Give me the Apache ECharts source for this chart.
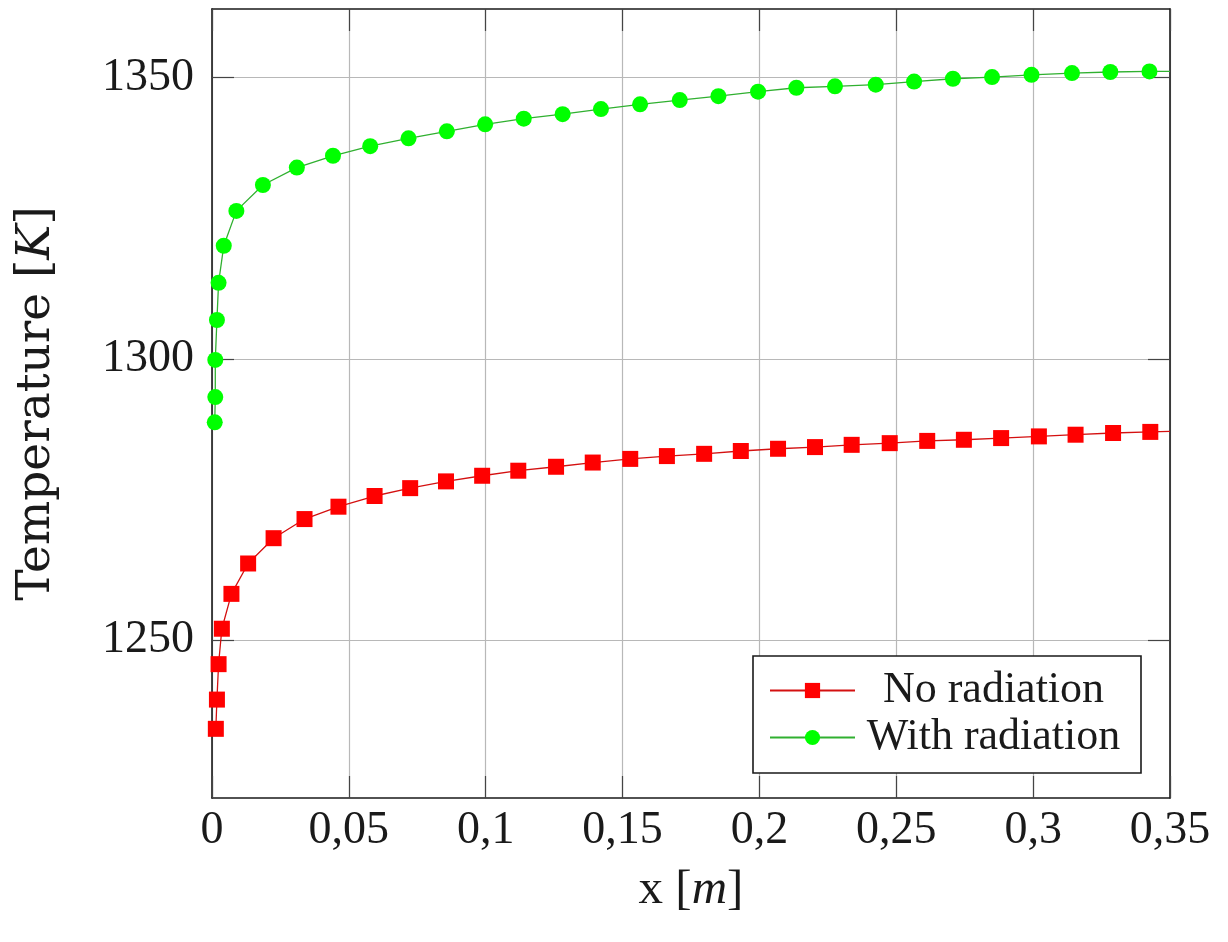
<!DOCTYPE html>
<html><head><meta charset="utf-8">
<script src="https://cdn.jsdelivr.net/npm/echarts@6/dist/echarts.min.js"></script>
<style>html,body{margin:0;padding:0;background:#fff}#c{width:1228px;height:942px}</style>
</head><body><div id="c"></div>
<script>
// ---- data ----
const xNoRad = [0.0014,0.0018,0.0024,0.0036,0.0071,0.0132,0.0225,0.0338,0.0462,0.0594,0.0724,0.0855,0.0987,0.1119,0.1257,0.1391,0.1528,0.1662,0.1798,0.1932,0.2068,0.2203,0.2337,0.2476,0.2613,0.2747,0.2883,0.3021,0.3155,0.3292,0.3428,0.35];
const yNoRad = [1234.2,1239.4,1245.7,1252.0,1258.2,1263.6,1268.1,1271.5,1273.7,1275.6,1277.0,1278.2,1279.2,1280.1,1280.8,1281.55,1282.2,1282.7,1283.1,1283.6,1284.0,1284.3,1284.7,1285.0,1285.4,1285.6,1285.9,1286.2,1286.5,1286.8,1287.0,1287.1];
const xWithRad = [0.0010,0.0012,0.0012,0.0018,0.0024,0.0043,0.0089,0.0186,0.0310,0.0442,0.0578,0.0718,0.0858,0.0998,0.1139,0.1281,0.1421,0.1564,0.1709,0.1850,0.1995,0.2135,0.2276,0.2425,0.2565,0.2707,0.2850,0.2994,0.3142,0.3282,0.3425,0.35];
const yWithRad = [1288.7,1293.2,1299.8,1306.9,1313.5,1320.1,1326.3,1330.9,1334.0,1336.1,1337.8,1339.2,1340.45,1341.7,1342.7,1343.5,1344.4,1345.25,1346.0,1346.7,1347.5,1348.2,1348.45,1348.75,1349.3,1349.8,1350.1,1350.5,1350.8,1351.0,1351.1,1351.1];
const yTicks = [1250, 1300, 1350];
const seriesNames = ['No radiation', 'With radiation'];
const xTitle = 'x [{i|m}]';
const yTitle = 'Temperature [{i|K}]';

// ---- build ----
function pts(xs, ys) {
  const last = xs.length - 1;
  return xs.map((x, i) => i === last ? { value: [x, ys[i]], symbol: 'none' } : [x, ys[i]]);
}
const SERIF = '"Liberation Serif", "Times New Roman", serif';
const TXT = '#1a1a1a';
const tickStyle = { show: true, inside: true, length: 22, lineStyle: { color: '#444', width: 1.2 } };
const frame = { show: true, onZero: false, lineStyle: { color: '#1a1a1a', width: 1.6 } };
const grid = { show: true, lineStyle: { color: '#b8b8b8', width: 1.2 } };
const fmtX = v => String(+v.toFixed(2)).replace('.', ',');
const fmtY = v => String(Math.round(v));

const chart = echarts.init(document.getElementById('c'), null, { renderer: 'canvas' });
chart.setOption({
  backgroundColor: '#fff',
  animation: false,
  grid: { left: 212, right: 58, top: 9, bottom: 144, containLabel: false },
  xAxis: [
    {
      type: 'value', min: 0, max: 0.35, interval: 0.05,
      axisLine: frame, axisTick: tickStyle, splitLine: grid,
      axisLabel: { formatter: fmtX, fontFamily: SERIF, fontSize: 46, color: TXT, margin: 10 },
      name: xTitle, nameLocation: 'middle', nameGap: 68,
      nameTextStyle: { fontFamily: SERIF, fontSize: 49, color: TXT,
        rich: { i: { fontFamily: SERIF, fontSize: 49, fontStyle: 'italic', color: TXT } } }
    },
    {
      type: 'value', position: 'top', min: 0, max: 0.35, interval: 0.05,
      axisLine: frame, axisTick: tickStyle, splitLine: { show: false }, axisLabel: { show: false }
    }
  ],
  yAxis: [
    {
      type: 'value', min: 1221.9, max: 1362.2,
      axisLine: frame,
      axisTick: Object.assign({}, tickStyle, { customValues: yTicks }),
      splitLine: grid,
      axisLabel: { customValues: yTicks, formatter: fmtY, fontFamily: SERIF, fontSize: 46, color: TXT, margin: 18 },
      name: yTitle, nameLocation: 'middle', nameGap: 152,
      nameTextStyle: { fontFamily: '"DejaVu Serif", serif', fontSize: 47, color: TXT,
        rich: { i: { fontFamily: '"DejaVu Serif", serif', fontSize: 47, fontStyle: 'italic', color: TXT } } }
    },
    {
      type: 'value', position: 'right', min: 1221.9, max: 1362.2,
      axisLine: frame,
      axisTick: Object.assign({}, tickStyle, { customValues: yTicks }),
      splitLine: { show: false },
      axisLabel: { show: false, customValues: yTicks }
    }
  ],
  legend: {
    orient: 'vertical', left: 753, top: 656,
    padding: [11, 20, 12, 16], itemGap: 0,
    itemWidth: 85, itemHeight: 19,
    backgroundColor: '#fff', borderColor: '#1a1a1a', borderWidth: 1.6, borderRadius: 0,
    data: seriesNames,
    formatter: n => '{c|' + n + '}',
    textStyle: { fontFamily: SERIF, fontSize: 44, color: TXT, lineHeight: 47,
      rich: { c: { fontFamily: SERIF, fontSize: 44, color: TXT, width: 255, align: 'center', padding: [0, 0, 0, 6] } } }
  },
  series: [
    {
      name: seriesNames[0], type: 'line', data: pts(xNoRad, yNoRad),
      symbol: 'rect', symbolSize: 16, showAllSymbol: true,
      itemStyle: { color: '#ff0000' },
      lineStyle: { color: '#d41010', width: 1.3 }, z: 3
    },
    {
      name: seriesNames[1], type: 'line', data: pts(xWithRad, yWithRad),
      symbol: 'circle', symbolSize: 16, showAllSymbol: true,
      itemStyle: { color: '#00ff00' },
      lineStyle: { color: '#30b030', width: 1.3 }, z: 3
    }
  ]
});
</script>
</body></html>
